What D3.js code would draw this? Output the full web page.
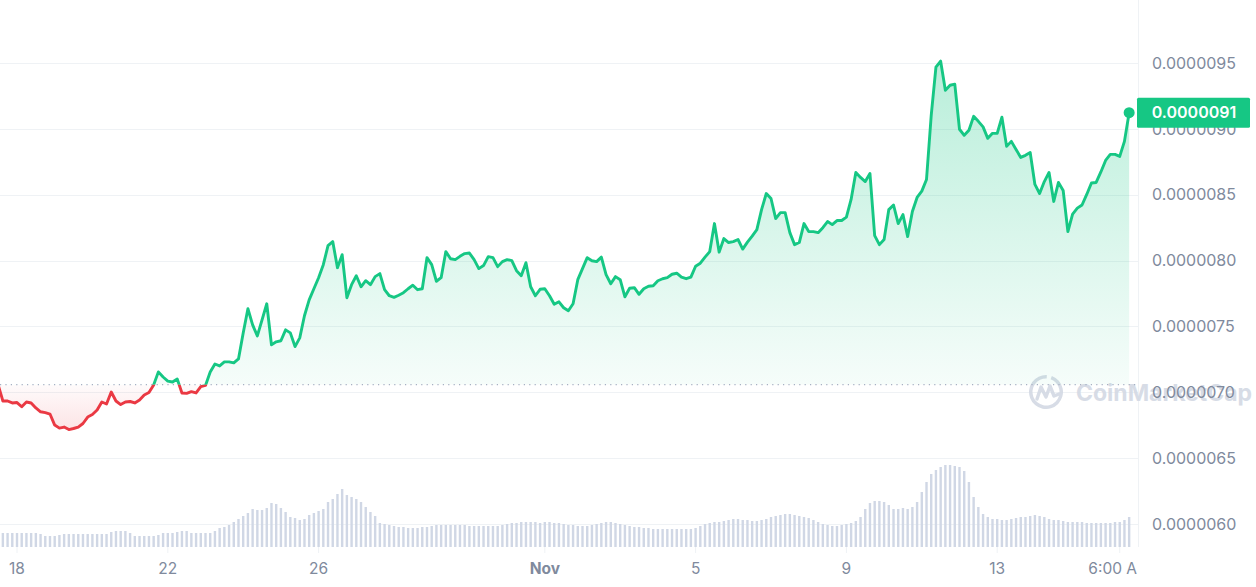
<!DOCTYPE html>
<html><head><meta charset="utf-8">
<script src="https://cdn.jsdelivr.net/npm/d3@7"></script>
<style>
body{margin:0;background:#fff;}
svg{display:block;font-family:Inter,"Noto Sans",sans-serif;}
</style>
</head><body>
<svg id="chart" width="1256" height="587"></svg>
<script>
// ---------- DATA ----------
// price series, 3-hour candles starting 2023-10-17 12:00 UTC, values in units of 1e-7
const seriesStart = Date.UTC(2023, 9, 17, 12);
const stepHours = 3;
const priceE7 = [
70.56,69.34,69.34,69.19,69.22,68.90,69.26,69.19,68.81,68.52,
68.46,68.35,67.51,67.28,67.36,67.17,67.25,67.36,67.63,68.12,
68.31,68.65,69.26,69.11,70.02,69.34,69.07,69.26,69.30,69.19,
69.41,69.79,69.98,70.56,71.55,71.16,70.85,70.78,71.01,69.95,
69.92,70.05,69.95,70.43,70.52,71.54,72.15,72.00,72.31,72.31,
72.23,72.53,74.51,76.34,75.12,74.28,75.50,76.72,73.60,73.83,
73.91,74.74,74.51,73.47,74.13,75.81,77.02,77.86,78.70,79.69,
81.13,81.44,79.46,80.45,77.18,78.17,78.85,78.01,78.47,78.17,
78.78,79.01,77.79,77.33,77.21,77.37,77.56,77.86,78.13,77.79,
77.86,80.22,79.69,78.43,78.70,80.68,80.14,80.07,80.32,80.53,
80.57,80.07,79.39,79.62,80.30,80.22,79.54,79.92,80.07,79.99,
79.23,78.85,79.84,78.01,77.33,77.82,77.86,77.33,76.68,76.87,
76.42,76.19,76.72,78.55,79.39,80.22,79.99,79.92,80.26,78.93,
78.24,78.78,78.55,77.25,77.90,77.94,77.44,77.86,78.05,78.09,
78.47,78.62,78.70,78.96,79.04,78.74,78.62,78.74,79.57,79.80,
80.26,80.68,82.81,80.64,81.67,81.37,81.44,81.60,80.87,81.40,
81.86,82.35,83.87,85.09,84.71,83.19,83.64,83.64,82.12,81.21,
81.37,82.81,82.20,82.20,82.12,82.50,82.96,82.73,83.04,83.04,
83.30,84.64,86.69,86.31,86.00,86.61,81.90,81.21,81.60,83.87,
84.22,82.81,83.49,81.82,83.72,84.79,85.27,86.16,91.03,94.68,
95.14,92.93,93.31,93.39,89.97,89.51,89.89,90.95,90.57,90.15,
89.28,89.66,89.66,90.88,88.67,89.05,88.44,87.83,87.99,88.21,
85.78,85.09,86.00,86.69,84.49,85.93,85.32,82.20,83.53,83.98,
84.22,85.02,85.89,85.93,86.73,87.60,88.06,88.06,87.91,89.05,
91.23
];
// traded volume per candle (relative units)
const volume = [
14,14,14,14,14,14,14,14,14,13,
11,11,11,12,13,13,13,13,13,13,
13,13,13,13,15,16,16,16,14,11,
11,11,11,11,12,14,14,14,15,16,
16,14,14,14,14,14,16,19,20,22,
25,28,31,34,38,37,37,39,44,43,
39,35,30,29,27,28,32,34,36,38,
45,48,53,58,52,50,48,45,40,35,
31,24,23,22,21,20,20,19,19,19,
20,20,21,22,22,22,22,22,22,22,
21,21,21,21,21,21,21,22,23,24,
24,25,25,25,25,24,25,25,24,24,
23,22,22,21,21,21,22,23,24,25,
25,24,23,22,21,20,20,19,19,18,
18,18,18,18,18,18,18,18,19,21,
23,24,25,25,26,27,28,28,27,27,
26,26,27,28,30,31,32,33,33,32,
31,30,29,27,25,23,22,21,21,22,
23,24,26,30,38,44,46,46,45,42,
38,38,39,38,40,45,55,65,73,77,
80,82,82,81,80,76,65,50,40,33,
30,28,28,27,27,28,29,30,30,31,
32,31,30,28,27,27,26,25,25,25,
25,24,24,24,24,24,24,25,25,27,
30
];
const baselineE7 = 70.58;            // reference (open) price, dotted line
const yTickValues = [60,65,70,75,80,85,90,95];
const xTickTimes = [
  Date.UTC(2023,9,18), Date.UTC(2023,9,22), Date.UTC(2023,9,26), Date.UTC(2023,10,1),
  Date.UTC(2023,10,5), Date.UTC(2023,10,9), Date.UTC(2023,10,13), Date.UTC(2023,10,16,6)
];
const xTickLabels = ["18","22","26","Nov","5","9","13","6:00 AM"];
const xTickBold = [false,false,false,true,false,false,false,false];
const currentLabel = "0.0000091";

// ---------- CHART ----------
const W = 1256, H = 587;
const plotRight = 1138;
const svg = d3.select("#chart");
const data = priceE7.map((v,i)=>({t:new Date(seriesStart + i*stepHours*3600e3), v, vol: volume[i]}));

const dayMs = 864e5;
const x = d3.scaleUtc()
  .domain([new Date(Date.UTC(2023,9,18) - 17/37.7*dayMs), new Date(Date.UTC(2023,9,18) + 1121/37.7*dayMs)])
  .range([0, plotRight]);
const y = d3.scaleLinear().domain([60,95]).range([524,63]);
const yVol = d3.scaleLinear().domain([0,100]).range([547,447]);
const yb = y(baselineE7);

const green = "#16c784", red = "#ea3943";
const defs = svg.append("defs");
const gG = defs.append("linearGradient").attr("id","gg").attr("gradientUnits","userSpaceOnUse")
  .attr("x1",0).attr("x2",0).attr("y1",y(95)).attr("y2",yb);
gG.append("stop").attr("offset",0).attr("stop-color",green).attr("stop-opacity",0.3);
gG.append("stop").attr("offset",1).attr("stop-color",green).attr("stop-opacity",0.04);
const gR = defs.append("linearGradient").attr("id","gr").attr("gradientUnits","userSpaceOnUse")
  .attr("x1",0).attr("x2",0).attr("y1",yb).attr("y2",y(66.5));
gR.append("stop").attr("offset",0).attr("stop-color",red).attr("stop-opacity",0.02);
gR.append("stop").attr("offset",1).attr("stop-color",red).attr("stop-opacity",0.16);
defs.append("clipPath").attr("id","above").append("rect").attr("x",-10).attr("y",0).attr("width",plotRight+10).attr("height",yb);
defs.append("clipPath").attr("id","below").append("rect").attr("x",-10).attr("y",yb).attr("width",plotRight+10).attr("height",H-yb);
defs.append("clipPath").attr("id","xlab").append("rect").attr("x",0).attr("y",550).attr("width",plotRight-1).attr("height",40);

// grid lines
svg.append("g").selectAll("line").data(yTickValues).join("line")
  .attr("x1",0).attr("x2",plotRight).attr("y1",d=>Math.round(y(d))+0.5).attr("y2",d=>Math.round(y(d))+0.5)
  .attr("stroke","#eff2f5").attr("stroke-width",1);
// right border line
svg.append("line").attr("x1",plotRight+0.5).attr("x2",plotRight+0.5).attr("y1",0).attr("y2",547)
  .attr("stroke","#eff2f5");

// volume bars
svg.append("g").selectAll("rect").data(data).join("rect")
  .attr("x",d=>x(d.t)-1.2).attr("width",2.4)
  .attr("y",d=>yVol(d.vol)).attr("height",d=>yVol(0)-yVol(d.vol))
  .attr("fill","#d0d7e5");

// watermark
const wm = svg.append("g").attr("opacity",0.9);
const lg = wm.append("g").attr("transform","translate(1046,392)");
lg.append("path").attr("d",d3.arc()({innerRadius:13.5,outerRadius:17,startAngle:0.35,endAngle:2*Math.PI+0.05}))
  .attr("fill","#d3d9e4");
lg.append("path").attr("d","M-9,7 L-5,-5 L0,5 L4,-6 L8,4 L13,2")
  .attr("fill","none").attr("stroke","#d3d9e4").attr("stroke-width",3.4).attr("stroke-linejoin","round").attr("stroke-linecap","round");
wm.append("text").attr("x",1076).attr("y",401).attr("font-size",23).attr("font-weight",700)
  .attr("fill","#d3d9e4").text("CoinMarketCap");

// areas
const area = d3.area().x(d=>x(d.t)).y0(yb).y1(d=>y(d.v));
const line = d3.line().x(d=>x(d.t)).y(d=>y(d.v));
svg.append("path").datum(data).attr("d",area).attr("fill","url(#gg)").attr("clip-path","url(#above)");
svg.append("path").datum(data).attr("d",area).attr("fill","url(#gr)").attr("clip-path","url(#below)");

// baseline dotted
svg.append("line").attr("x1",0).attr("x2",plotRight).attr("y1",yb).attr("y2",yb)
  .attr("stroke","#a6b0c3").attr("stroke-width",1.2).attr("stroke-dasharray","1.2,4.2");

// price line
svg.append("path").datum(data).attr("d",line).attr("fill","none").attr("stroke",green)
  .attr("stroke-width",2.9).attr("stroke-linejoin","round").attr("clip-path","url(#above)");
svg.append("path").datum(data).attr("d",line).attr("fill","none").attr("stroke",red)
  .attr("stroke-width",2.9).attr("stroke-linejoin","round").attr("clip-path","url(#below)");

// y axis labels
svg.append("g").selectAll("text").data(yTickValues).join("text")
  .attr("x",1152).attr("y",d=>y(d)).attr("dy","0.36em")
  .attr("font-size",16).attr("fill","#808a9d")
  .text(d=>(d/1e7).toFixed(7));

// x axis
const xg = svg.append("g");
xg.selectAll("line").data(xTickTimes).join("line")
  .attr("x1",d=>x(new Date(d))).attr("x2",d=>x(new Date(d))).attr("y1",547).attr("y2",553)
  .attr("stroke","#eff2f5");
xg.append("g").attr("clip-path","url(#xlab)").selectAll("text").data(xTickTimes).join("text")
  .attr("x",d=>x(new Date(d))).attr("y",574).attr("text-anchor","middle")
  .attr("font-size",15.5).attr("fill","#808a9d")
  .attr("font-weight",(d,i)=>xTickBold[i]?700:400)
  .text((d,i)=>xTickLabels[i]);

// last point marker + badge
const last = data[data.length-1];
svg.append("circle").attr("cx",x(last.t)).attr("cy",y(last.v)).attr("r",5.5).attr("fill",green);
const by = y(last.v);
svg.append("rect").attr("x",plotRight-1).attr("y",by-15).attr("width",113).attr("height",30).attr("rx",1.5).attr("fill",green);
svg.append("text").attr("x",plotRight+56).attr("y",by).attr("dy","0.36em").attr("text-anchor","middle")
  .attr("font-size",16).attr("font-weight",600).attr("fill","#fff").text(currentLabel);
</script>
</body></html>
